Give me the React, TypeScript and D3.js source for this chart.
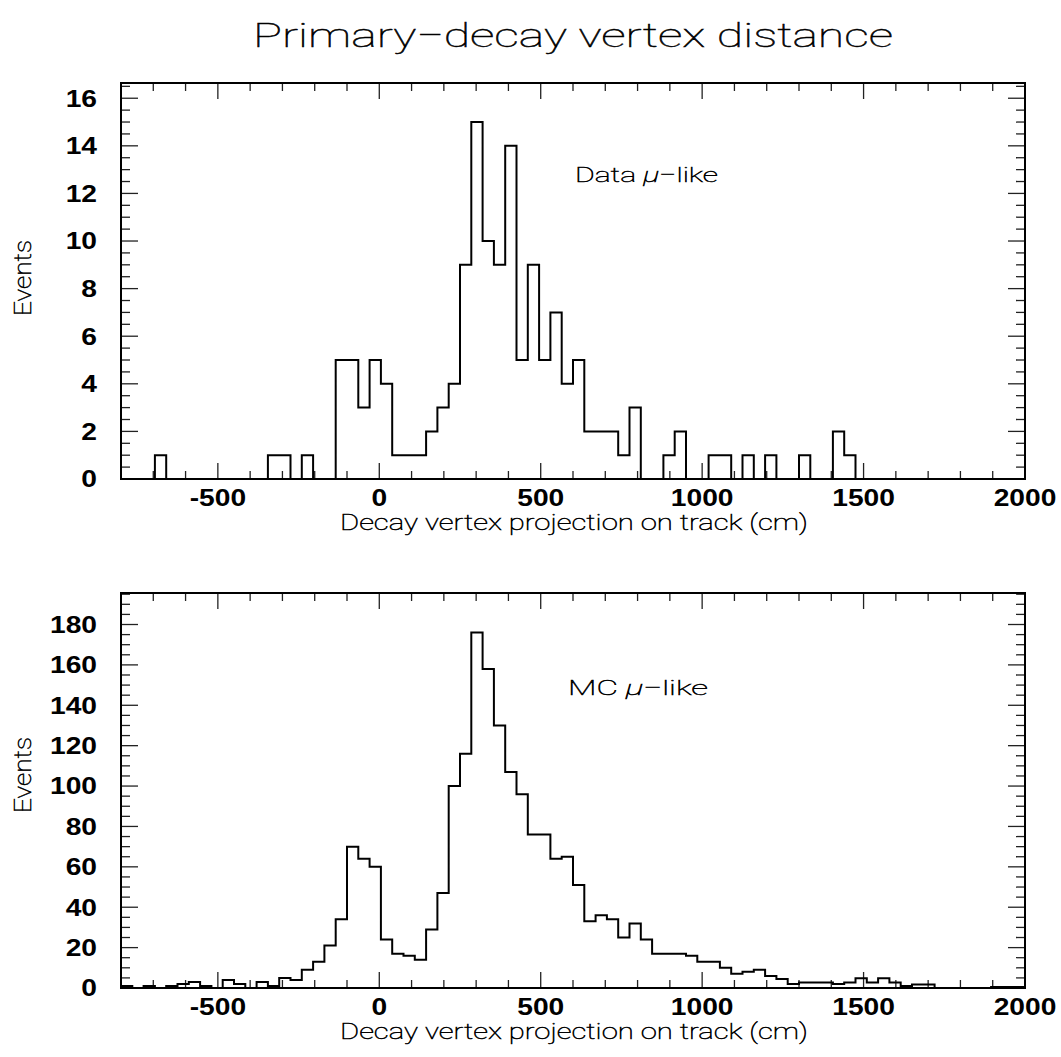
import React from "react";
import * as d3 from "d3";

// Histogram binning: 80 bins of 35 cm from -800 to 2000 cm
const X_MIN = -800;
const X_MAX = 2000;
const BIN_WIDTH = 35;

// Data mu-like: events per bin
const dataCounts: number[] = [
  0, 0, 0, 1, 0, 0, 0, 0, 0, 0,
  0, 0, 0, 1, 1, 0, 1, 0, 0, 5,
  5, 3, 5, 4, 1, 1, 1, 2, 3, 4,
  9, 15, 10, 9, 14, 5, 9, 5, 7, 4,
  5, 2, 2, 2, 1, 3, 0, 0, 1, 2,
  0, 0, 1, 1, 0, 1, 0, 1, 0, 0,
  1, 0, 0, 2, 1, 0, 0, 0, 0, 0,
  0, 0, 0, 0, 0, 0, 0, 0, 0, 0,
];

// MC mu-like: events per bin
const mcCounts: number[] = [
  1, 0, 1, 0, 1, 2, 3, 1, 0, 4,
  2, 0, 3, 1, 5, 4, 9, 13, 21, 34,
  70, 64, 60, 24, 17, 16, 14, 29, 47, 100,
  116, 176, 158, 130, 107, 96, 76, 76, 64, 65,
  51, 33, 36, 34, 25, 32, 24, 17, 17, 17,
  16, 13, 13, 10, 7, 8, 9, 6, 4.5, 2,
  2.7, 2.7, 2.7, 2, 2.7, 4.8, 2.7, 4.8, 2.7, 1,
  1.7, 1.7, 0, 0, 0, 0, 0, 0.5, 0.5, 0.5,
];

const xTickValues: number[] = [-500, 0, 500, 1000, 1500, 2000];
const topYTicks: number[] = [0, 2, 4, 6, 8, 10, 12, 14, 16];
const bottomYTicks: number[] = [0, 20, 40, 60, 80, 100, 120, 140, 160, 180];

const TITLE = "Primary\u2212decay vertex distance";
const X_TITLE = "Decay vertex projection on track (cm)";
const Y_TITLE = "Events";

const W = 1061;
const H = 1057;
const LEFT = 121;
const RIGHT = 1025;

const LIGHT_FONT = "Roboto, 'Open Sans', sans-serif";
const BOLD_FONT = "'Liberation Sans', Arial, sans-serif";

// thin strokes drawn in solid black
const lightText = {
  fontFamily: LIGHT_FONT,
  fontWeight: 100,
  fill: "#000",
  stroke: "#000",
  strokeWidth: 0.5,
};

interface PanelProps {
  counts: number[];
  yMax: number;
  yMajor: number;
  yMinor: number;
  yTicks: number[];
  top: number;
  bottom: number;
  name: string;
  labelX: number;
  labelY: number;
  labelWidth: number;
  yTitleCenter: number;
}

function Panel(p: PanelProps) {
  const x = d3.scaleLinear().domain([X_MIN, X_MAX]).range([LEFT, RIGHT]);
  const y = d3.scaleLinear().domain([0, p.yMax]).range([p.bottom, p.top]);

  const pts: [number, number][] = [[X_MIN, 0]];
  p.counts.forEach((c, i) => pts.push([X_MIN + i * BIN_WIDTH, c]));
  pts.push([X_MIN + p.counts.length * BIN_WIDTH, p.counts[p.counts.length - 1]]);
  pts.push([X_MIN + p.counts.length * BIN_WIDTH, 0]);
  const line = d3
    .line<[number, number]>()
    .x((d) => x(d[0]))
    .y((d) => y(d[1]))
    .curve(d3.curveStepAfter);

  const xMinor = d3.range(X_MIN + 100, X_MAX, 100);
  const yMinorVals = d3.range(p.yMinor, p.yMax, p.yMinor);

  const tickStroke = "#222";
  return (
    <g>
      {/* x ticks on bottom and top edges */}
      {xMinor.map((v) => {
        const major = v % 500 === 0;
        const len = major ? 16 : 8;
        return (
          <g key={"x" + v} stroke={tickStroke} strokeWidth={1.3}>
            <line x1={x(v)} x2={x(v)} y1={p.bottom} y2={p.bottom - len} />
            <line x1={x(v)} x2={x(v)} y1={p.top} y2={p.top + len} />
          </g>
        );
      })}
      {/* y ticks on left and right edges */}
      {yMinorVals.map((v) => {
        const major = Math.abs(v / p.yMajor - Math.round(v / p.yMajor)) < 1e-6;
        const len = major ? 17 : 9;
        return (
          <g key={"y" + v} stroke={tickStroke} strokeWidth={1.3}>
            <line x1={LEFT} x2={LEFT + len} y1={y(v)} y2={y(v)} />
            <line x1={RIGHT} x2={RIGHT - len} y1={y(v)} y2={y(v)} />
          </g>
        );
      })}
      <path d={line(pts) || ""} fill="none" stroke="#000" strokeWidth={2} />
      <rect
        x={LEFT}
        y={p.top}
        width={RIGHT - LEFT}
        height={p.bottom - p.top}
        fill="none"
        stroke="#000"
        strokeWidth={2}
      />
      {/* tick labels */}
      {xTickValues.map((v) => (
        <text
          key={"xl" + v}
          transform={`translate(${x(v)},${p.bottom + 27}) scale(1.2,1)`}
          textAnchor="middle"
          fontFamily={BOLD_FONT}
          fontWeight="bold"
          fontSize={23.5}
        >
          {v}
        </text>
      ))}
      {p.yTicks.map((v) => (
        <text
          key={"yl" + v}
          transform={`translate(97,${y(v) + 8.3}) scale(1.2,1)`}
          textAnchor="end"
          fontFamily={BOLD_FONT}
          fontWeight="bold"
          fontSize={23.5}
        >
          {v}
        </text>
      ))}
      <text
        {...lightText}
        x={(LEFT + RIGHT) / 2 + 1}
        y={p.bottom + 51}
        textAnchor="middle"
        fontSize={22}
        textLength={468}
        lengthAdjust="spacingAndGlyphs"
      >
        {X_TITLE}
      </text>
      <text
        {...lightText}
        transform={`translate(31,${p.yTitleCenter}) rotate(-90)`}
        textAnchor="middle"
        fontSize={23}
        textLength={76}
        lengthAdjust="spacingAndGlyphs"
      >
        {Y_TITLE}
      </text>
      <text
        {...lightText}
        x={p.labelX}
        y={p.labelY}
        fontSize={21}
        textLength={p.labelWidth}
        lengthAdjust="spacingAndGlyphs"
      >
        {p.name + " "}
        <tspan fontStyle="italic">{"\u03BC"}</tspan>
        {"\u2212like"}
      </text>
    </g>
  );
}

export default function App() {
  return (
    <svg
      width={W}
      height={H}
      style={{ position: "absolute", left: 0, top: 0, background: "#fff" }}
    >
      <rect width={W} height={H} fill="#fff" />
      <text
        {...lightText}
        x={573}
        y={47}
        textAnchor="middle"
        fontSize={34}
        textLength={640}
        lengthAdjust="spacingAndGlyphs"
      >
        {TITLE}
      </text>
      <Panel
        counts={dataCounts}
        yMax={16.64}
        yMajor={2}
        yMinor={0.5}
        yTicks={topYTicks}
        top={83}
        bottom={479}
        name="Data"
        labelX={575}
        labelY={182}
        labelWidth={143}
        yTitleCenter={278}
      />
      <Panel
        counts={mcCounts}
        yMax={195.6}
        yMajor={20}
        yMinor={5}
        yTicks={bottomYTicks}
        top={593}
        bottom={988}
        name="MC"
        labelX={568}
        labelY={695}
        labelWidth={140}
        yTitleCenter={775}
      />
    </svg>
  );
}
